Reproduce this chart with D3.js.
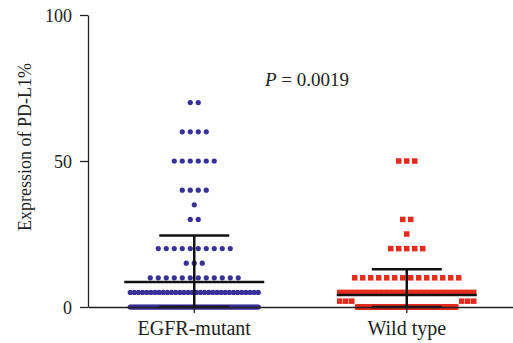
<!DOCTYPE html>
<html>
<head>
<meta charset="utf-8">
<script src="https://cdn.jsdelivr.net/npm/d3@7"></script>
<style>
  body { margin: 0; background: #fff; }
  svg text { font-family: "Liberation Serif", "Times New Roman", serif; fill: #222; }
</style>
</head>
<body>
<div id="chart"></div>
<script>
// chart.js

const width = 513;
const height = 343;

// data (value rows and how many patients sit on each)
const groups = ["EGFR-mutant", "Wild type"];
const egfrValues = [70, 60, 50, 40, 35, 30, 20, 15, 10, 5, 0];
const egfrCounts = [2, 4, 6, 4, 1, 2, 10, 3, 12, 32, 94];
const wildValues = [50, 30, 25, 20, 10, 5, 2, 0];
const wildCounts = [3, 2, 1, 5, 14, 28, 6, 92];
const yTicks = [0, 50, 100];
const pLabel = " = 0.0019";

const svg = d3.select("#chart")
    .append("svg")
    .attr("width", width)
    .attr("height", height);

const x = d3.scaleBand()
    .domain(groups)
    .range([88, 513]);

const y = d3.scaleLinear()
    .domain([0, 100])
    .range([307, 15]);

// expand rows into single points
function expand(values, counts) {
    let out = [];
    values.forEach((v, i) => {
        for (let k = 0; k < counts[i]; k++) out.push(v);
    });
    return out;
}

const series = [
    { name: groups[0], values: egfrValues, counts: egfrCounts, shape: "circle", color: "#3a2f98", step: 8, spread: 128 },
    { name: groups[1], values: wildValues, counts: wildCounts, shape: "square", color: "#e52a1e", step: 8, spread: 134 }
];

// Prism-like scatter layout: crowded rows get squeezed, small rows that
// would land on a crowded row are pushed out to its ends
function layout(s) {
    const minDx = 6;
    const collY = 7;
    const rows = s.values.map((v, i) => ({ v, n: s.counts[i], py: y(v) }));
    const dense = rows.filter(r => (r.n - 1) * s.step > s.spread);
    const small = rows.filter(r => (r.n - 1) * s.step <= s.spread);
    let placed = [];

    dense.forEach(r => {
        const near = d3.sum(small.filter(o => Math.abs(o.py - r.py) < collY), o => o.n);
        const w = s.spread - 2 * Math.ceil(near / 2) * minDx;
        const sp = w / (r.n - 1);
        for (let k = 0; k < r.n; k++) {
            placed.push({ v: r.v, py: r.py, dx: -w / 2 + k * sp });
        }
    });

    const hits = (dx, py) => placed.some(p =>
        Math.abs(p.py - py) < collY && Math.abs(p.dx - dx) < minDx);

    small.forEach(r => {
        const start = -(r.n - 1) * s.step / 2;
        const even = d3.range(r.n).map(k => start + k * s.step);
        if (!even.some(dx => hits(dx, r.py))) {
            even.forEach(dx => placed.push({ v: r.v, py: r.py, dx }));
            return;
        }
        for (let k = 0; k < r.n; k++) {
            for (let d = 0; d < 200; d += 0.25) {
                if (!hits(d, r.py)) { placed.push({ v: r.v, py: r.py, dx: d }); break; }
                if (!hits(-d, r.py)) { placed.push({ v: r.v, py: r.py, dx: -d }); break; }
            }
        }
    });
    return placed;
}

// points
series.forEach(s => {
    const cx = x(s.name) + x.bandwidth() / 2;
    const pts = layout(s);
    const g = svg.append("g").attr("class", "points");
    if (s.shape === "circle") {
        g.selectAll("circle")
            .data(pts)
            .join("circle")
            .attr("cx", d => cx + d.dx)
            .attr("cy", d => d.py)
            .attr("r", 2.6)
            .attr("fill", s.color);
    } else {
        g.selectAll("rect")
            .data(pts)
            .join("rect")
            .attr("x", d => cx + d.dx - 2.75)
            .attr("y", d => d.py - 2.75)
            .attr("width", 5.5)
            .attr("height", 5.5)
            .attr("fill", s.color);
    }
});

// mean and SD bars
series.forEach(s => {
    const cx = x(s.name) + x.bandwidth() / 2;
    const all = expand(s.values, s.counts);
    const m = d3.mean(all);
    const sd = d3.deviation(all);
    const top = y(m + sd);
    const bottom = y(Math.max(0, m - sd));
    const g = svg.append("g")
        .attr("stroke", "#111")
        .attr("stroke-width", 2.5);
    g.append("line").attr("x1", cx).attr("x2", cx).attr("y1", top).attr("y2", bottom);
    g.append("line").attr("x1", cx - 35).attr("x2", cx + 35).attr("y1", top).attr("y2", top);
    g.append("line").attr("x1", cx - 35).attr("x2", cx + 35).attr("y1", bottom).attr("y2", bottom);
    g.append("line").attr("x1", cx - 70).attr("x2", cx + 70).attr("y1", y(m)).attr("y2", y(m));
});

// axes
const yAxis = svg.append("g")
    .attr("transform", "translate(88,0)")
    .call(d3.axisLeft(y).tickValues(yTicks).tickSize(8).tickSizeOuter(0).tickPadding(8));

const xAxis = svg.append("g")
    .attr("transform", "translate(0,307)")
    .call(d3.axisBottom(x).tickSize(6).tickSizeOuter(0));

[yAxis, xAxis].forEach(a => {
    a.selectAll("path, line").attr("stroke", "#222").attr("stroke-width", 1.3);
    a.selectAll("text").attr("font-family", null).attr("fill", "#222");
});
yAxis.selectAll("text").attr("font-size", 18).attr("dy", "0.36em");
xAxis.selectAll("text").attr("font-size", 20).attr("dy", null).attr("y", 28);

svg.append("text")
    .attr("transform", "translate(31,147) rotate(-90)")
    .attr("text-anchor", "middle")
    .attr("font-size", 18)
    .text("Expression of PD-L1%");

// p value
const pt = svg.append("text")
    .attr("x", 265)
    .attr("y", 86)
    .attr("font-size", 19);
pt.append("tspan").attr("font-style", "italic").text("P");
pt.append("tspan").text(pLabel);
</script>
</body>
</html>
